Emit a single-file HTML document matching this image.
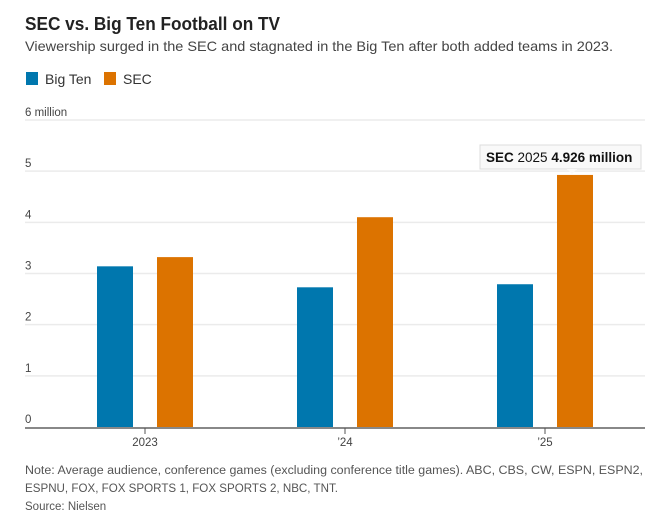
<!DOCTYPE html>
<html><head><meta charset="utf-8"><style>
body{margin:0;background:#fff;width:653px;height:523px;overflow:hidden;font-family:"Liberation Sans",sans-serif;}
</style></head><body>
<svg width="653" height="523" style="position:absolute;left:0;top:0" font-family="Liberation Sans, sans-serif">
<text x="25" y="30" font-size="18" font-weight="bold" fill="#222" textLength="255" lengthAdjust="spacingAndGlyphs">SEC vs. Big Ten Football on TV</text>
<text x="25" y="51" font-size="14" fill="#444" textLength="588" lengthAdjust="spacingAndGlyphs">Viewership surged in the SEC and stagnated in the Big Ten after both added teams in 2023.</text>
<g>
<rect x="26" y="72" width="12" height="13" fill="#0077ae"/>
<text x="45" y="84" font-size="14" fill="#333">Big Ten</text>
<rect x="104" y="72" width="12" height="13" fill="#dc7300"/>
<text x="123" y="84" font-size="14" fill="#333">SEC</text>
</g>
<g id="grid"></g><g id="bars"></g><g id="xaxis"></g>
<g>
<rect x="480" y="145" width="161" height="24" fill="#f9f9f9" stroke="#ddd"/>
<path d="M567 169 L572 174 L577 169 Z" fill="#f9f9f9"/>
<text x="486" y="162" font-size="13.5" fill="#111"><tspan font-weight="bold">SEC</tspan> 2025 <tspan font-weight="bold">4.926 million</tspan></text>
</g>
<text x="25" y="474" font-size="11.5" fill="#555" textLength="618" lengthAdjust="spacingAndGlyphs">Note: Average audience, conference games (excluding conference title games). ABC, CBS, CW, ESPN, ESPN2,</text>
<text x="25" y="492" font-size="11.5" fill="#555" textLength="313" lengthAdjust="spacingAndGlyphs">ESPNU, FOX, FOX SPORTS 1, FOX SPORTS 2, NBC, TNT.</text>
<text x="25" y="510" font-size="11.5" fill="#555">Source: Nielsen</text>
</svg>
<script>
const categories=["2023","’24","’25"];
const bigTen=[3.14,2.73,2.79];
const sec=[3.32,4.10,4.926];
const yTicks=[0,1,2,3,4,5,6];
const yTickLabels=["0","1","2","3","4","5","6 million"];
const NS="http://www.w3.org/2000/svg";
const y=v=>427-v*51.17;
const xc=i=>145+i*200;
function mk(t,a,p){const e=document.createElementNS(NS,t);for(const k in a)e.setAttribute(k,a[k]);p.appendChild(e);return e;}
const g=document.getElementById('grid');
yTicks.forEach((v,i)=>{
 if(v>0){const l=mk('line',{x1:25,x2:645,y1:y(v),y2:y(v),stroke:'#ebebeb','stroke-width':1.5},g);
 
 }
 const t=mk('text',{x:25,y:y(v)-4,'font-size':11.5,fill:'#444'},g);t.textContent=yTickLabels[i];
 
 
});
const b=document.getElementById('bars');
categories.forEach((c,i)=>{
 const r1=mk('rect',{x:xc(i)-48,y:y(bigTen[i]),width:36,height:y(0)-y(bigTen[i]),fill:'#0077ae'},b);
 
 
 const r2=mk('rect',{x:xc(i)+12,y:y(sec[i]),width:36,height:y(0)-y(sec[i]),fill:'#dc7300'},b);
 
 
});
const ax=document.getElementById('xaxis');
const base=mk('line',{x1:25,x2:645,y1:428,y2:428,stroke:'#888','stroke-width':2},ax);


categories.forEach((c,i)=>{
 const tk=mk('line',{x1:xc(i),x2:xc(i),y1:428,y2:434,stroke:'#555'},ax);
 
 
 const t=mk('text',{x:xc(i),y:446,'font-size':11.5,fill:'#444','text-anchor':'middle'},ax);t.textContent=c;
 
 
});
</script>
</body></html>
